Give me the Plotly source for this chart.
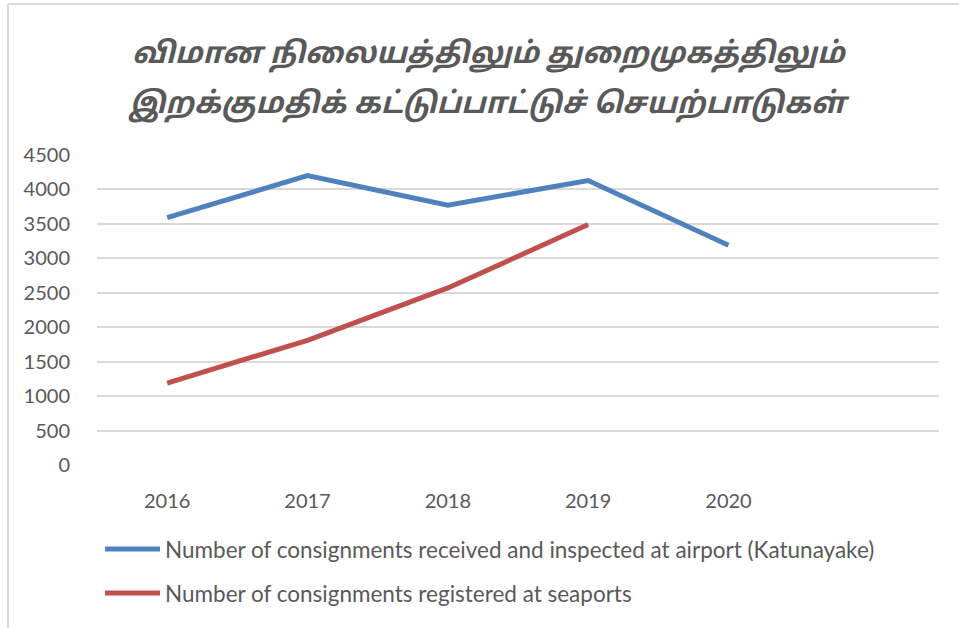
import plotly.graph_objects as go

# Consignment counts per year
years = [2016, 2017, 2018, 2019, 2020]
airport = [3590, 4200, 3770, 4130, 3190]
seaport = [1190, 1810, 2570, 3490]

series_names = [
    "Number of consignments received and inspected at airport (Katunayake)",
    "Number of consignments registered at seaports",
]
series_colors = ["#4f81bd", "#c0504d"]

title_lines = ["விமான நிலையத்திலும் துறைமுகத்திலும்", "இறக்குமதிக் கட்டுப்பாட்டுச் செயற்பாடுகள்"]

y_ticks = list(range(0, 4501, 500))

TEXT = "#595959"
GRID = "#d9d9d9"
FONT = "Lato, Noto Sans, sans-serif"
TITLE_FONT = "Noto Sans Tamil, Lohit Tamil, Latha, sans-serif"

fig = go.Figure()
fig.add_trace(go.Scatter(x=years, y=airport, mode="lines", name=series_names[0],
                         line=dict(color=series_colors[0], width=5), showlegend=False))
fig.add_trace(go.Scatter(x=years[:len(seaport)], y=seaport, mode="lines", name=series_names[1],
                         line=dict(color=series_colors[1], width=5), showlegend=False))

shapes = []
annotations = []

# Two-line title, one annotation per line for wider line spacing
for line, ty in zip(title_lines, [1.322, 1.16]):
    annotations.append(dict(xref="paper", yref="paper", x=0.466, y=ty, text=line,
                            showarrow=False, xanchor="center", yanchor="middle",
                            font=dict(family=TITLE_FONT, size=29.5, color=TEXT,
                                      style="italic", weight="bold")))

# Legend drawn below the plot: line swatch + label per series
legend_y = [-0.271, -0.413]
for name, color, ly in zip(series_names, series_colors, legend_y):
    shapes.append(dict(type="line", xref="paper", yref="paper", x0=0.0095, x1=0.0748,
                       y0=ly, y1=ly, line=dict(color=color, width=5)))
    annotations.append(dict(xref="paper", yref="paper", x=0.0785, y=ly, text=name,
                            showarrow=False, xanchor="left", yanchor="middle",
                            font=dict(family=FONT, size=22.5, color=TEXT)))

# Chart frame (left and top edges)
shapes.append(dict(type="line", xref="paper", yref="paper", x0=-0.1057, x1=1.03,
                   y0=1.487, y1=1.487, line=dict(color=GRID, width=2)))
shapes.append(dict(type="line", xref="paper", yref="paper", x0=-0.1057, x1=-0.1057,
                   y0=1.487, y1=-0.53, line=dict(color=GRID, width=2)))

fig.update_layout(
    width=959, height=628,
    margin=dict(l=97, r=20, t=155, b=163),
    paper_bgcolor="white", plot_bgcolor="white",
    shapes=shapes, annotations=annotations,
    xaxis=dict(range=[years[0] - 0.5, years[-1] + 1.5], tickvals=years,
               ticktext=[str(y) for y in years], showgrid=False, zeroline=False,
               showline=False, ticks="outside", ticklen=0, ticklabelstandoff=18,
               tickfont=dict(family=FONT, size=20, color=TEXT)),
    yaxis=dict(range=[0, 4500], tickvals=y_ticks, showgrid=True, gridcolor=GRID,
               gridwidth=1.5, zeroline=False, showline=False, ticks="outside", ticklen=0,
               ticklabelstandoff=22, tickfont=dict(family=FONT, size=20, color=TEXT)),
)

fig.write_html("out.html")
